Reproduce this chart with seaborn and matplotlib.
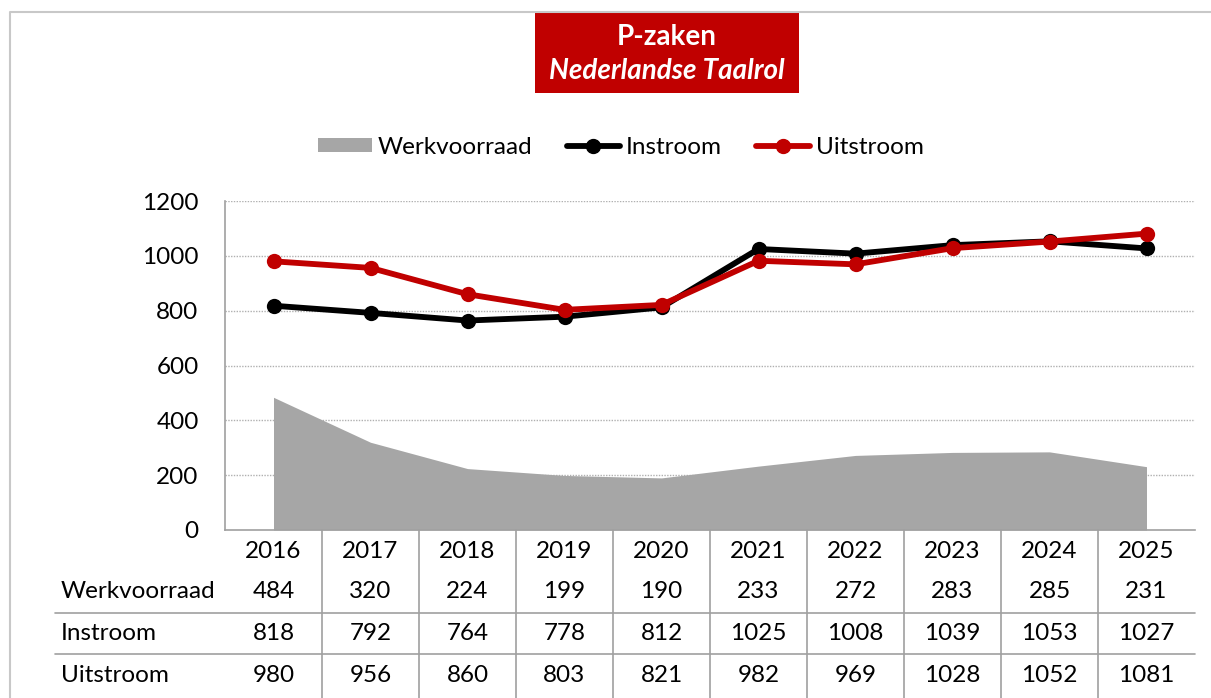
import numpy as np
import pandas as pd
import seaborn as sns
import matplotlib.pyplot as plt
from matplotlib.patches import Rectangle, Patch
from matplotlib.lines import Line2D
from matplotlib.transforms import blended_transform_factory

jaren = ["2016", "2017", "2018", "2019", "2020", "2021", "2022", "2023", "2024", "2025"]
werkvoorraad = [484, 320, 224, 199, 190, 233, 272, 283, 285, 231]
instroom = [818, 792, 764, 778, 812, 1025, 1008, 1039, 1053, 1027]
uitstroom = [980, 956, 860, 803, 821, 982, 969, 1028, 1052, 1081]
y_ticks = [0, 200, 400, 600, 800, 1000, 1200]

GRIJS = "#A6A6A6"
ROOD = "#C00000"
ZWART = "#000000"
FS = 17.5

sns.set_theme(style="white")
plt.rcParams["font.family"] = ["Lato", "DejaVu Sans"]
plt.rcParams["text.color"] = "black"
plt.rcParams["ytick.color"] = "black"

W, H = 1211, 698
fig = plt.figure(figsize=(W / 100, H / 100), dpi=100)

def fx(px):
    return px / W

def fy(py):
    return 1 - py / H

ax = fig.add_axes([fx(225), fy(530), fx(1195) - fx(225), fy(201) - fy(530)])

x = np.arange(len(jaren))
df = pd.DataFrame({
    "idx": np.concatenate([x, x]),
    "waarde": instroom + uitstroom,
    "reeks": ["Instroom"] * len(x) + ["Uitstroom"] * len(x),
})

ax.fill_between(x, 0, werkvoorraad, color=GRIJS, linewidth=0, zorder=1)
sns.lineplot(data=df, x="idx", y="waarde", hue="reeks",
             palette={"Instroom": ZWART, "Uitstroom": ROOD},
             marker="o", markersize=11, markeredgewidth=0, linewidth=4.2,
             legend=False, ax=ax, zorder=3)

ax.set_xlim(-0.5, len(x) - 0.5)
ax.set_ylim(0, 1200)
ax.set_yticks(y_ticks)
ax.set_yticklabels([str(t) for t in y_ticks], fontsize=FS, color="black")
ax.tick_params(axis="y", length=0, pad=19)
ax.set_xticks([])
ax.set_xlabel("")
ax.set_ylabel("")
for t in y_ticks[1:]:
    ax.axhline(t, color="#B0B0B0", linestyle=(0, (1, 1)), linewidth=1, zorder=0)
for s in ["top", "right"]:
    ax.spines[s].set_visible(False)
for s in ["left", "bottom"]:
    ax.spines[s].set_color("#A0A0A0")
    ax.spines[s].set_linewidth(1.2)

# tabel onder de grafiek
tr = blended_transform_factory(ax.transData, ax.transAxes)
def ay(py):
    return (530 - py) / (530 - 201)

for i, jaar in enumerate(jaren):
    ax.text(i, ay(551), jaar, transform=tr, ha="center", va="center", fontsize=FS)
    ax.text(i, ay(591), str(werkvoorraad[i]), transform=tr, ha="center", va="center", fontsize=FS)
    ax.text(i, ay(633), str(instroom[i]), transform=tr, ha="center", va="center", fontsize=FS)
    ax.text(i, ay(675), str(uitstroom[i]), transform=tr, ha="center", va="center", fontsize=FS)

for naam, py in [("Werkvoorraad", 591), ("Instroom", 633), ("Uitstroom", 675)]:
    fig.text(fx(61), fy(py), naam, ha="left", va="center", fontsize=FS)

for i in range(len(x) - 1):
    ax.plot([i + 0.5, i + 0.5], [0, ay(698)], transform=tr, color="#A0A0A0",
            linewidth=1.2, clip_on=False)
for py in [613, 654]:
    fig.add_artist(Line2D([fx(55), fx(1195)], [fy(py), fy(py)], color="#A0A0A0", linewidth=1.2))

# rand
fig.add_artist(Line2D([fx(10), fx(10), fx(1211)], [fy(698), fy(12), fy(12)],
                      color="#C8C8C8", linewidth=1.5))

# titelvak
fig.add_artist(Rectangle((fx(535), fy(93)), fx(799) - fx(535), fy(12) - fy(93),
                         facecolor=ROOD, edgecolor="none", transform=fig.transFigure))
fig.text(fx(667), fy(37), "P-zaken", ha="center", va="center", color="white",
         fontsize=20, fontweight="bold")
fig.text(fx(667), fy(71), "Nederlandse Taalrol", ha="center", va="center", color="white",
         fontsize=20, fontweight="bold", fontstyle="italic")

handles = [
    Patch(facecolor=GRIJS, edgecolor="none", label="Werkvoorraad"),
    Line2D([], [], color=ZWART, marker="o", markersize=10, linewidth=4.2, label="Instroom"),
    Line2D([], [], color=ROOD, marker="o", markersize=10, linewidth=4.2, label="Uitstroom"),
]
fig.legend(handles=handles, loc="center", bbox_to_anchor=(fx(621), fy(147)), ncol=3,
           frameon=False, fontsize=FS, handlelength=2.2, handleheight=0.55,
           handletextpad=0.25, columnspacing=1.4)

fig.savefig("out.png", dpi=100)
